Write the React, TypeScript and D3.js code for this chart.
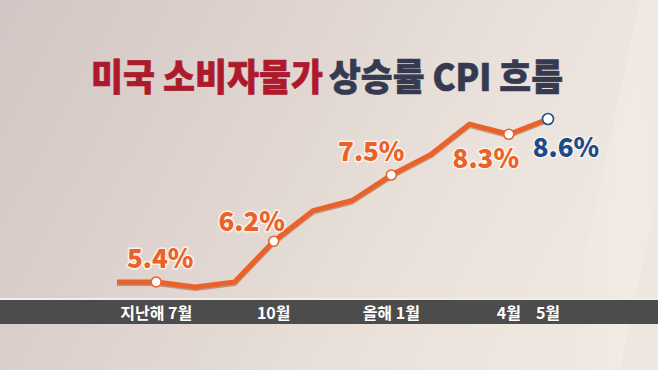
import React from "react";
import * as d3 from "d3";

const months = ["2021-06", "2021-07", "2021-08", "2021-09", "2021-10", "2021-11", "2021-12", "2022-01", "2022-02", "2022-03", "2022-04", "2022-05"];
const cpi = [5.4, 5.4, 5.3, 5.4, 6.2, 6.8, 7.0, 7.5, 7.9, 8.5, 8.3, 8.6];
const tickMonths = ["2021-07", "2021-10", "2022-01", "2022-04", "2022-05"];
const tickLabels = ["지난해 7월", "10월", "올해 1월", "4월", "5월"];
const labelledMonths = ["2021-07", "2021-10", "2022-01", "2022-04", "2022-05"];
const titleRed = "미국 소비자물가";
const titleNavy = "상승률 CPI 흐름";

// label placement relative to the point (style config, not data)
const labelOffsets: [number, number][] = [
  [4, -14],
  [-22, -10],
  [-20, -14],
  [-23, 34],
  [18, 38],
];

const W = 658;
const H = 370;
const ORANGE = "#e8622a";
const NAVY = "#1c4b8c";
const FONT = "'Noto Sans CJK KR', 'Noto Sans', sans-serif";

export default function App() {
  const x = d3.scalePoint<string>().domain(months).range([117, 548]);
  const y = d3.scaleLinear().domain([5.4, 8.6]).range([282, 119]);
  const pts = months.map((m, i) => ({ m, v: cpi[i] }));
  const line = d3
    .line<{ m: string; v: number }>()
    .x((d) => x(d.m) as number)
    .y((d) => y(d.v));
  const path = line(pts) || "";
  const lastMonth = months[months.length - 1];

  return (
    <svg width={W} height={H} style={{ position: "absolute", left: 0, top: 0 }}>
      <defs>
        <linearGradient id="bg" x1="0" y1="0" x2="1" y2="0.3">
          <stop offset="0" stopColor="#d3c6c4" />
          <stop offset="0.45" stopColor="#e0d5d0" />
          <stop offset="0.8" stopColor="#ebe3db" />
          <stop offset="1" stopColor="#eee7df" />
        </linearGradient>
        <linearGradient id="streak" x1="0" y1="0" x2="1" y2="0">
          <stop offset="0" stopColor="#ffffff" stopOpacity="0" />
          <stop offset="0.5" stopColor="#ffffff" stopOpacity="0.18" />
          <stop offset="1" stopColor="#ffffff" stopOpacity="0" />
        </linearGradient>
      </defs>
      <rect width={W} height={H} fill="url(#bg)" />
      <polygon points="560,370 640,0 700,0 620,370" fill="url(#streak)" />

      <text x={91} y={91} fontFamily={FONT} fontWeight={900} fontSize={37} fill="#ad1a2c" stroke="#ad1a2c" strokeWidth={0.6} textLength={232} lengthAdjust="spacingAndGlyphs">
        {titleRed}
      </text>
      <text x={329} y={91} fontFamily={FONT} fontWeight={900} fontSize={37} fill="#363a50" stroke="#363a50" strokeWidth={0.6} textLength={234} lengthAdjust="spacingAndGlyphs">
        {titleNavy}
      </text>

      <rect x={0} y={298} width={W} height={2} fill="#f3eeea" />
      <rect x={0} y={300} width={W} height={24} fill="#4d4c4c" />
      {tickMonths.map((m, i) => (
        <text
          key={m}
          x={x(m) as number}
          y={318.5}
          textAnchor="middle"
          fontFamily={FONT}
          fontWeight={700}
          fontSize={16}
          fill="#ffffff"
        >
          {tickLabels[i]}
        </text>
      ))}

      <path d={path} fill="none" stroke="#9c3c17" strokeOpacity={0.45} strokeWidth={5} transform="translate(0,1.5)" strokeLinejoin="round" />
      <path d={path} fill="none" stroke={ORANGE} strokeWidth={5} strokeLinejoin="round" />

      {labelledMonths.map((m) => {
        const i = months.indexOf(m);
        const isLast = m === lastMonth;
        return (
          <circle
            key={"c" + m}
            cx={x(m) as number}
            cy={y(cpi[i])}
            r={isLast ? 5.5 : 5}
            fill="#ffffff"
            stroke={isLast ? NAVY : ORANGE}
            strokeWidth={1.6}
          />
        );
      })}

      {labelledMonths.map((m, k) => {
        const i = months.indexOf(m);
        const isLast = m === lastMonth;
        const [dx, dy] = labelOffsets[k];
        return (
          <text
            key={"t" + m}
            x={(x(m) as number) + dx}
            y={y(cpi[i]) + dy}
            textAnchor="middle"
            fontFamily={FONT}
            fontWeight={800}
            fontSize={26}
            fill={isLast ? NAVY : ORANGE}
            stroke="#fbf3ea"
            strokeWidth={3}
            paintOrder="stroke"
            strokeLinejoin="round"
          >
            {cpi[i].toFixed(1) + "%"}
          </text>
        );
      })}
    </svg>
  );
}
